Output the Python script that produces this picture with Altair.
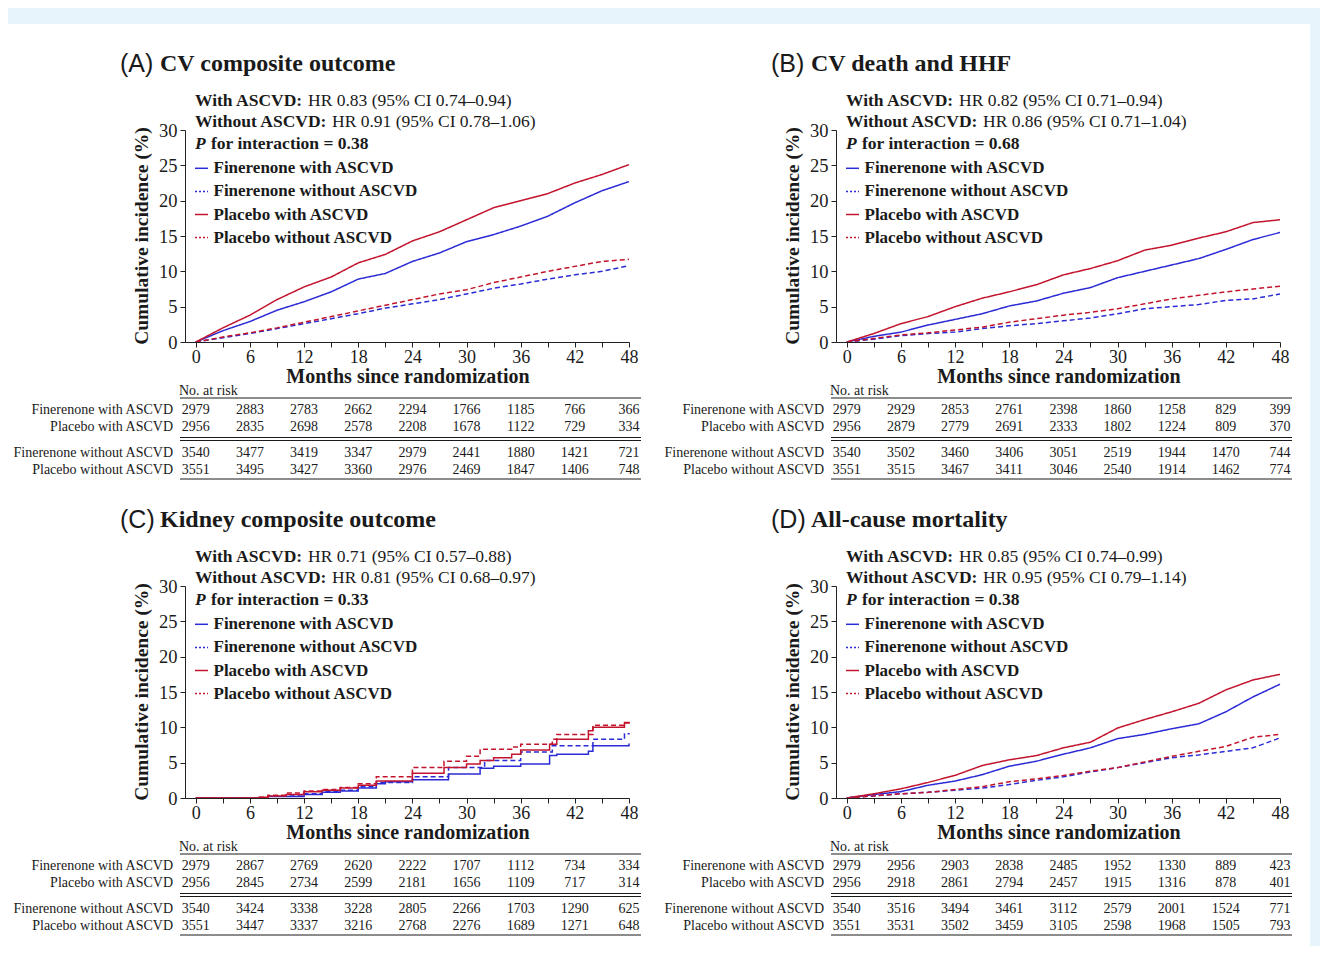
import altair as alt
import pandas as pd

# ---------------- data ----------------
SERIES = ["Finerenone with ASCVD", "Finerenone without ASCVD",
          "Placebo with ASCVD", "Placebo without ASCVD"]
RISK_ROWS = ["Finerenone with ASCVD", "Placebo with ASCVD",
             "Finerenone without ASCVD", "Placebo without ASCVD"]
MONTHS = [0, 3, 6, 9, 12, 15, 18, 21, 24, 27, 30, 33, 36, 39, 42, 45, 48]
RISK_MONTHS = [0, 6, 12, 18, 24, 30, 36, 42, 48]

# Panel A: CV composite outcome
A_FIN_WITH = [0, 1.6, 2.9, 4.5, 5.7, 7.1, 8.9, 9.7, 11.4, 12.6, 14.2, 15.2, 16.4, 17.8, 19.7, 21.4, 22.7]
A_FIN_WITHOUT = [0, 0.6, 1.2, 1.9, 2.6, 3.3, 4.0, 4.8, 5.4, 6.0, 6.8, 7.6, 8.2, 8.9, 9.5, 10.0, 10.8]
A_PLA_WITH = [0, 2.0, 3.8, 6.0, 7.8, 9.2, 11.2, 12.4, 14.3, 15.6, 17.3, 19.0, 20.0, 21.0, 22.5, 23.7, 25.1]
A_PLA_WITHOUT = [0, 0.7, 1.3, 2.0, 2.8, 3.6, 4.4, 5.2, 6.0, 6.8, 7.4, 8.4, 9.2, 10.0, 10.7, 11.4, 11.7]

# Panel B: CV death and HHF
B_FIN_WITH = [0, 0.8, 1.4, 2.4, 3.2, 4.0, 5.1, 5.8, 6.9, 7.7, 9.1, 10.0, 10.9, 11.8, 13.1, 14.5, 15.5]
B_FIN_WITHOUT = [0, 0.4, 0.9, 1.2, 1.4, 1.9, 2.3, 2.6, 3.0, 3.4, 4.0, 4.7, 5.0, 5.3, 5.9, 6.1, 6.8]
B_PLA_WITH = [0, 1.2, 2.6, 3.6, 5.0, 6.2, 7.1, 8.1, 9.5, 10.4, 11.5, 13.0, 13.7, 14.7, 15.6, 16.9, 17.3]
B_PLA_WITHOUT = [0, 0.5, 1.0, 1.3, 1.7, 2.1, 2.8, 3.3, 3.8, 4.2, 4.7, 5.4, 6.1, 6.6, 7.1, 7.5, 7.9]

# Panel C: Kidney composite outcome (step curves)
C_FIN_WITH_T = [0, 8, 12, 14, 16, 18, 20, 21, 24, 28, 31.5, 33, 36, 39.2, 40, 43.5, 44, 48]
C_FIN_WITH_V = [0, 0.2, 0.5, 0.8, 1.0, 1.4, 2.0, 2.3, 2.6, 3.4, 4.2, 4.5, 4.8, 6.0, 6.2, 6.6, 7.4, 7.7]
C_FIN_WITHOUT_T = [0, 8, 12, 14, 16, 18, 20, 24, 28, 32, 36, 39.5, 44, 47.5, 48]
C_FIN_WITHOUT_V = [0, 0.3, 0.6, 0.9, 1.1, 1.6, 2.2, 3.0, 4.3, 5.3, 6.5, 7.4, 8.3, 9.1, 9.2]
C_PLA_WITH_T = [0, 7, 8, 10, 12, 14, 16, 18, 20, 24, 27.5, 30, 31.5, 33, 35, 36, 39.2, 40, 43.5, 44, 47.5, 48]
C_PLA_WITH_V = [0, 0.1, 0.3, 0.5, 0.9, 1.1, 1.4, 1.8, 2.4, 3.5, 4.3, 4.8, 5.3, 5.7, 6.2, 6.8, 7.6, 8.3, 9.5, 10.0, 10.7, 10.8]
C_PLA_WITHOUT_T = [0, 7, 8, 10, 12, 14, 16, 18, 20, 24, 27.5, 30, 31.5, 35, 36, 39.5, 40, 44, 47.5, 48]
C_PLA_WITHOUT_V = [0, 0.1, 0.4, 0.7, 1.0, 1.2, 1.5, 2.0, 3.0, 4.3, 5.2, 5.9, 6.9, 7.2, 7.6, 8.3, 9.0, 10.3, 10.6, 10.8]

# Panel D: All-cause mortality
D_FIN_WITH = [0, 0.5, 0.9, 1.8, 2.4, 3.3, 4.5, 5.2, 6.2, 7.1, 8.4, 9.0, 9.8, 10.5, 12.2, 14.3, 16.1]
D_FIN_WITHOUT = [0, 0.3, 0.6, 0.8, 1.1, 1.4, 1.9, 2.5, 3.0, 3.7, 4.3, 5.0, 5.7, 6.1, 6.6, 7.1, 8.5]
D_PLA_WITH = [0, 0.6, 1.3, 2.2, 3.2, 4.6, 5.4, 6.0, 7.1, 7.9, 9.9, 11.1, 12.2, 13.4, 15.3, 16.7, 17.5]
D_PLA_WITHOUT = [0, 0.3, 0.6, 0.8, 1.2, 1.6, 2.3, 2.7, 3.2, 3.8, 4.3, 5.1, 5.9, 6.6, 7.3, 8.6, 9.0]

A_STATS = ["HR 0.83 (95% CI 0.74\u20130.94)", "HR 0.91 (95% CI 0.78\u20131.06)", "0.38"]
B_STATS = ["HR 0.82 (95% CI 0.71\u20130.94)", "HR 0.86 (95% CI 0.71\u20131.04)", "0.68"]
C_STATS = ["HR 0.71 (95% CI 0.57\u20130.88)", "HR 0.81 (95% CI 0.68\u20130.97)", "0.33"]
D_STATS = ["HR 0.85 (95% CI 0.74\u20130.99)", "HR 0.95 (95% CI 0.79\u20131.14)", "0.38"]

A_RISK = [[2979, 2883, 2783, 2662, 2294, 1766, 1185, 766, 366],
          [2956, 2835, 2698, 2578, 2208, 1678, 1122, 729, 334],
          [3540, 3477, 3419, 3347, 2979, 2441, 1880, 1421, 721],
          [3551, 3495, 3427, 3360, 2976, 2469, 1847, 1406, 748]]
B_RISK = [[2979, 2929, 2853, 2761, 2398, 1860, 1258, 829, 399],
          [2956, 2879, 2779, 2691, 2333, 1802, 1224, 809, 370],
          [3540, 3502, 3460, 3406, 3051, 2519, 1944, 1470, 744],
          [3551, 3515, 3467, 3411, 3046, 2540, 1914, 1462, 774]]
C_RISK = [[2979, 2867, 2769, 2620, 2222, 1707, 1112, 734, 334],
          [2956, 2845, 2734, 2599, 2181, 1656, 1109, 717, 314],
          [3540, 3424, 3338, 3228, 2805, 2266, 1703, 1290, 625],
          [3551, 3447, 3337, 3216, 2768, 2276, 1689, 1271, 648]]
D_RISK = [[2979, 2956, 2903, 2838, 2485, 1952, 1330, 889, 423],
          [2956, 2918, 2861, 2794, 2457, 1915, 1316, 878, 401],
          [3540, 3516, 3494, 3461, 3112, 2579, 2001, 1524, 771],
          [3551, 3531, 3502, 3459, 3105, 2598, 1968, 1505, 793]]

# ---------------- style ----------------
SERIF = "Liberation Serif"
SANS = "Liberation Sans"
INK = "#1a1a1a"
BLUE = "#2b2bd6"
RED = "#c3142d"
BG = "#e8f4fb"
W, H = 444, 212

one = pd.DataFrame({"k": [0]})


def curves_df(pairs):
    rows = []
    for name, ts, vs in pairs:
        for t, v in zip(ts, vs):
            rows.append({"series": name, "month": t, "value": v})
    return pd.DataFrame(rows)


def txt(s, x, y, size, weight="normal", style="normal", font=SERIF, align="left", angle=0):
    return alt.Chart(one).mark_text(
        text=s, font=font, fontSize=size, fontWeight=weight, fontStyle=style,
        align=align, baseline="middle", color=INK, angle=angle
    ).encode(x=alt.value(x), y=alt.value(y))


def hrule(x1, x2, y):
    return alt.Chart(one).mark_rule(color=INK, strokeWidth=1).encode(
        x=alt.value(x1), x2=alt.value(x2), y=alt.value(y))


XS = alt.Scale(domain=[-1.2, 48], nice=False, zero=False)
YS = alt.Scale(domain=[0, 30], nice=False, zero=True)
CS = alt.Scale(domain=SERIES, range=[BLUE, BLUE, RED, RED])
DS = alt.Scale(domain=SERIES, range=[[1, 0], [5, 3], [1, 0], [5, 3]])
XAX = alt.Axis(values=list(range(0, 49, 3)),
               labelExpr="datum.value % 6 === 0 ? datum.label : ''",
               title=None, grid=False, tickSize=5, labelPadding=1,
               labelFont=SERIF, labelFontSize=18, labelColor=INK,
               domainColor="#222", tickColor="#222", labelFlush=False,
               labelOverlap=False, zindex=2)
YAX = alt.Axis(values=[0, 5, 10, 15, 20, 25, 30], title=None, grid=False,
               tickSize=5, labelPadding=3, labelFont=SERIF, labelFontSize=18.5,
               labelColor=INK, domainColor="#222", tickColor="#222",
               labelFlush=False, labelOverlap=False, zindex=2)


def panel(letter, name, stats, curves, risk, interp, bottom):
    layers = []
    layers.append(alt.Chart(one).mark_rect(fill="white").encode(
        x=alt.value(-177), x2=alt.value(474), y=alt.value(-106), y2=alt.value(bottom)))

    layers.append(alt.Chart(curves).mark_line(strokeWidth=1.5, interpolate=interp).encode(
        x=alt.X("month:Q", scale=XS, axis=XAX),
        y=alt.Y("value:Q", scale=YS, axis=YAX),
        color=alt.Color("series:N", scale=CS, legend=None),
        strokeDash=alt.StrokeDash("series:N", scale=DS, legend=None),
    ))

    # titles
    layers.append(txt("(" + letter + ")", -65, -66, 25, font=SANS))
    layers.append(txt(name, -25, -66, 24, weight="bold"))
    layers.append(txt("Cumulative incidence (%)", -43, H / 2, 19.5, weight="bold",
                      align="center", angle=270))
    layers.append(txt("Months since randomization", 223, 247, 20, weight="bold",
                      align="center"))

    # statistics
    layers.append(txt("With ASCVD:", 10, -29, 17.5, weight="bold"))
    layers.append(txt(stats[0], 123, -29, 17.5))
    layers.append(txt("Without ASCVD:", 10, -8, 17.5, weight="bold"))
    layers.append(txt(stats[1], 147, -8, 17.5))
    layers.append(txt("P", 10, 13.5, 17.5, weight="bold", style="italic"))
    layers.append(txt("for interaction = " + stats[2], 26, 13.5, 17.5, weight="bold"))

    # legend
    leg = pd.DataFrame({"series": SERIES, "i": [0, 1, 2, 3], "dashed": [0, 1, 0, 1]})
    leg["ly"] = 38.3 + 23.1 * leg["i"]
    base = alt.Chart(leg)
    layers.append(base.transform_filter("datum.dashed == 0").mark_rule(strokeWidth=1.5).encode(
        x=alt.value(10), x2=alt.value(23),
        y=alt.Y("ly:Q", scale=None, axis=None),
        color=alt.Color("series:N", scale=CS, legend=None)))
    layers.append(base.transform_filter("datum.dashed == 1").mark_rule(
        strokeWidth=1.5, strokeDash=[2, 2]).encode(
        x=alt.value(10), x2=alt.value(23),
        y=alt.Y("ly:Q", scale=None, axis=None),
        color=alt.Color("series:N", scale=CS, legend=None)))
    layers.append(base.mark_text(align="left", baseline="middle", font=SERIF,
                                 fontSize=17, fontWeight="bold", color=INK).encode(
        x=alt.value(28.5), y=alt.Y("ly:Q", scale=None, axis=None), text="series:N"))

    # risk table
    row_y = [280, 297, 323, 339.5]
    rows = []
    for r, (lab, counts) in enumerate(zip(RISK_ROWS, risk)):
        for m, n in zip(RISK_MONTHS, counts):
            rows.append({"month": m, "n": str(n), "ty": row_y[r]})
    tab = pd.DataFrame(rows)
    labs = pd.DataFrame({"lab": RISK_ROWS, "ty": row_y})
    layers.append(txt("No. at risk", -6, 261, 14))
    layers.append(alt.Chart(tab).mark_text(align="center", baseline="middle", font=SERIF,
                                           fontSize=14, color=INK).encode(
        x=alt.X("month:Q", scale=XS, axis=XAX),
        y=alt.Y("ty:Q", scale=None, axis=None), text="n:N"))
    layers.append(alt.Chart(labs).mark_text(align="right", baseline="middle", font=SERIF,
                                            fontSize=14, color=INK).encode(
        x=alt.value(-12), y=alt.Y("ty:Q", scale=None, axis=None), text="lab:N"))
    for yy in [268, 307.5, 310.5, 349]:
        layers.append(hrule(-5, 456, yy))

    return alt.layer(*layers).properties(width=W, height=H)


smooth = lambda a, b, c, d: curves_df([(SERIES[0], MONTHS, a), (SERIES[1], MONTHS, b),
                                       (SERIES[2], MONTHS, c), (SERIES[3], MONTHS, d)])

pA = panel("A", "CV composite outcome", A_STATS,
           smooth(A_FIN_WITH, A_FIN_WITHOUT, A_PLA_WITH, A_PLA_WITHOUT), A_RISK, "linear", 350)
pB = panel("B", "CV death and HHF", B_STATS,
           smooth(B_FIN_WITH, B_FIN_WITHOUT, B_PLA_WITH, B_PLA_WITHOUT), B_RISK, "linear", 350)
pC = panel("C", "Kidney composite outcome", C_STATS,
           curves_df([(SERIES[0], C_FIN_WITH_T, C_FIN_WITH_V),
                      (SERIES[1], C_FIN_WITHOUT_T, C_FIN_WITHOUT_V),
                      (SERIES[2], C_PLA_WITH_T, C_PLA_WITH_V),
                      (SERIES[3], C_PLA_WITHOUT_T, C_PLA_WITHOUT_V)]), C_RISK, "step-after", 360)
pD = panel("D", "All-cause mortality", D_STATS,
           smooth(D_FIN_WITH, D_FIN_WITHOUT, D_PLA_WITH, D_PLA_WITHOUT), D_RISK, "linear", 360)

chart = alt.concat(pA, pB, pC, pD, columns=2, spacing=0).properties(
    background=BG,
    padding={"left": 0, "top": 16, "right": 10, "bottom": 0},
).configure_view(stroke=None)

chart.save("out.html", embed_options={"renderer": "svg", "actions": False})
